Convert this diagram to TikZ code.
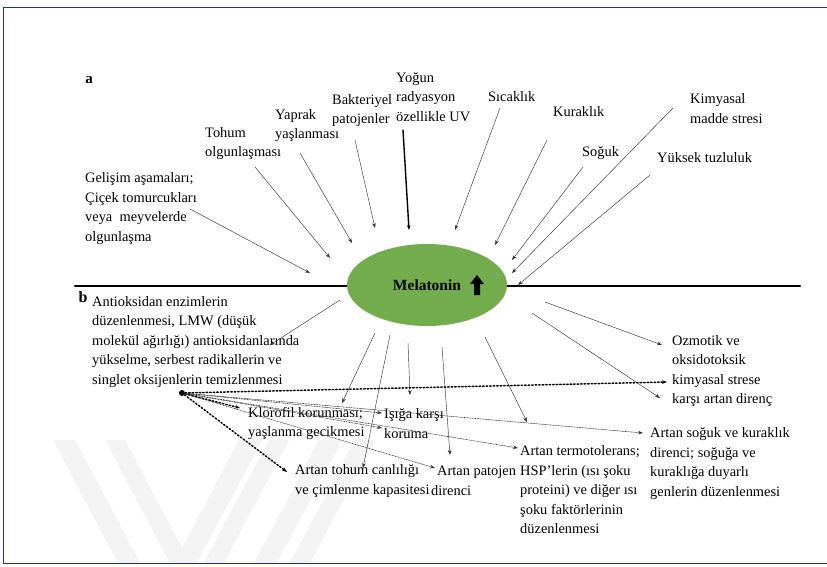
\documentclass[tikz,border=0pt]{standalone}
\usepackage{fontspec}
\setmainfont{Liberation Serif}
\usetikzlibrary{arrows.meta,shapes.geometric}
\definecolor{frameBlue}{HTML}{2323C8}
\definecolor{melGreen}{HTML}{72AC4D}
\definecolor{wmGray}{HTML}{F3F3F3}

\begin{document}
\begin{tikzpicture}[
  x=1pt, y=-1pt,
  >={Stealth[length=5pt,width=3.6pt]},
  line cap=round,
  every node/.style={font=\fontsize{14.4}{19.5}\selectfont, inner sep=0pt},
  txt/.style={anchor=west, align=left},
  arr/.style={->, black!80, line width=0.45pt},
  dotarr/.style={->, black!80, line width=0.6pt, densely dotted},
  bigdot/.style={->, black, line width=1.5pt, dotted}
]
  \useasboundingbox (0,0) rectangle (827,567);

  % Watermark stripes
  \fill[wmGray] (53,440) -- (75,440) -- (140,563) -- (118,563) -- cycle;
  \fill[wmGray] (105,440) -- (125,440) -- (190,563) -- (170,563) -- cycle;
  \fill[wmGray] (239,440) -- (262,440) -- (197,563) -- (174,563) -- cycle;
  \fill[wmGray] (269,440) -- (289,440) -- (224,563) -- (204,563) -- cycle;
  \fill[wmGray] (319,440) -- (342,440) -- (277,563) -- (254,563) -- cycle;
  \fill[wmGray] (355,440) -- (375,440) -- (310,563) -- (290,563) -- cycle;

  % Frame
  \draw[frameBlue, line width=1pt] (828,8) -- (3,8) -- (3,563) -- (828,563);

  % Dividing line and melatonin
  \draw[black, line width=2.5pt] (75,286) -- (800,286);
  \node[ellipse, fill=melGreen, minimum width=160pt, minimum height=82pt,
        font=\bfseries\fontsize{15.5}{18}\selectfont] (melatonin) at (427,285) {Melatonin};
  \fill[black] (477,275) -- (484,284) -- (480,284) -- (480,295)
    -- (474,295) -- (474,284) -- (470,284) -- cycle;

  % Part a: stress factors
  \node[font=\bfseries\fontsize{15}{18}\selectfont] (secA) at (89,80) {a};
  \node[txt] (gelisim) at (85,208.5) {Gelişim aşamaları;\\Çiçek tomurcukları\\veya\ \ meyvelerde\\olgunlaşma};
  \node[txt] (tohum) at (205,143.5) {Tohum\\olgunlaşması};
  \node[txt] (yaprak) at (275,125.5) {Yaprak\\yaşlanması};
  \node[txt] (bakteri) at (332,110.5) {Bakteriyel\\patojenler};
  \node[txt] (uv) at (396,97) {Yoğun\\radyasyon\\özellikle UV};
  \node[txt] (sicak) at (488,97) {Sıcaklık};
  \node[txt] (kurak) at (553,112) {Kuraklık};
  \node[txt] (soguk) at (582,153) {Soğuk};
  \node[txt] (kimya) at (690,108.5) {Kimyasal\\madde stresi};
  \node[txt] (tuz) at (657,158) {Yüksek tuzluluk};

  \coordinate (gelisimTail) at (190,209);  \coordinate (gelisimTip) at (310,273);
  \coordinate (tohumTail) at (255,167);    \coordinate (tohumTip) at (330,258);
  \coordinate (yaprakTail) at (300,153);   \coordinate (yaprakTip) at (352,243);
  \coordinate (bakteriTail) at (355,140);  \coordinate (bakteriTip) at (375,228);
  \coordinate (uvTail) at (403,130);       \coordinate (uvTip) at (409,230);
  \coordinate (sicakTail) at (500,108);    \coordinate (sicakTip) at (455,230);
  \coordinate (kurakTail) at (547,140);    \coordinate (kurakTip) at (495,245);
  \coordinate (sogukTail) at (583,167);    \coordinate (sogukTip) at (512,260);
  \coordinate (kimyaTail) at (673,108);    \coordinate (kimyaTip) at (512,273);
  \coordinate (tuzTail) at (650,175);      \coordinate (tuzTip) at (518,285);

  \draw[arr] (gelisimTail) -- (gelisimTip);
  \draw[arr] (tohumTail) -- (tohumTip);
  \draw[arr] (yaprakTail) -- (yaprakTip);
  \draw[arr] (bakteriTail) -- (bakteriTip);
  \draw[->, black, line width=1.4pt] (uvTail) -- (uvTip);
  \draw[arr] (sicakTail) -- (sicakTip);
  \draw[arr] (kurakTail) -- (kurakTip);
  \draw[arr] (sogukTail) -- (sogukTip);
  \draw[arr] (kimyaTail) -- (kimyaTip);
  \draw[arr] (tuzTail) -- (tuzTip);

  % Part b: responses
  \node[font=\bfseries\fontsize{16}{18}\selectfont] (secB) at (83,297) {b};
  \node[txt] (antiok) at (92,342) {Antioksidan enzimlerin\\düzenlenmesi, LMW (düşük\\molekül ağırlığı) antioksidanlarında\\yükselme, serbest radikallerin ve\\singlet oksijenlerin temizlenmesi};
  \node[txt] (klorofil) at (248,423.5) {Klorofil korunması;\\yaşlanma gecikmesi};
  \node[txt] (isiga) at (384,423.5) {Işığa karşı\\koruma};
  \node[txt] (tohumcan) at (295,481) {Artan tohum canlılığı\\ve çimlenme kapasitesi};
  \node[txt] (patojen) at (431,481) {\hspace*{6pt}Artan patojen\\direnci};
  \node[txt] (termo) at (520,490) {Artan termotolerans;\\HSP'lerin (ısı şoku\\proteini) ve diğer ısı\\şoku faktörlerinin\\düzenlenmesi};
  \node[txt] (sogukdir) at (650,463.5) {Artan soğuk ve kuraklık\\direnci; soğuğa ve\\kuraklığa duyarlı\\genlerin düzenlenmesi};
  \node[txt] (ozmotik) at (672,371) {Ozmotik ve\\oksidotoksik\\kimyasal strese\\karşı artan direnç};

  % Arrows out of melatonin
  \coordinate (antiokTail) at (340,300);   \coordinate (antiokTip) at (270,345);
  \coordinate (klorTail) at (375,333);     \coordinate (klorTip) at (342,403);
  \coordinate (canTail) at (390,335);      \coordinate (canTip) at (363,468);
  \coordinate (isigaTail) at (408,343);    \coordinate (isigaTip) at (410,395);
  \coordinate (patTail) at (442,347);      \coordinate (patTip) at (450,455);
  \coordinate (termoTail) at (485,337);    \coordinate (termoTip) at (527,422);
  \coordinate (ozmTail) at (545,302);      \coordinate (ozmTip) at (662,345);
  \coordinate (direncTail) at (532,313);   \coordinate (direncTip) at (660,398);

  \draw[arr] (antiokTail) -- (antiokTip);
  \draw[arr] (klorTail) -- (klorTip);
  \draw[arr] (canTail) -- (canTip);
  \draw[arr] (isigaTail) -- (isigaTip);
  \draw[arr] (patTail) -- (patTip);
  \draw[arr] (termoTail) -- (termoTip);
  \draw[arr] (ozmTail) -- (ozmTip);
  \draw[arr] (direncTail) -- (direncTip);

  % Dotted fan from the hub
  \node[circle, fill=black, minimum size=6pt] (hub) at (182,393) {};
  \coordinate (hKlor) at (240,408);
  \coordinate (hTohum) at (287,472);
  \coordinate (hKimya) at (667,382);
  \coordinate (hIsiga) at (382,413);
  \coordinate (hKoruma) at (382,428);
  \coordinate (hPat) at (435,468);
  \coordinate (hTermo) at (518,448);
  \coordinate (hSoguk) at (643,433);

  \draw[bigdot] (hub) -- (hKlor);
  \draw[bigdot] (hub) -- (hTohum);
  \draw[bigdot] (hub) -- (hKimya);
  \draw[dotarr] (hub) -- (hIsiga);
  \draw[dotarr] (hub) -- (hKoruma);
  \draw[dotarr] (hub) -- (hPat);
  \draw[dotarr] (hub) -- (hTermo);
  \draw[dotarr] (hub) -- (hSoguk);
\end{tikzpicture}
\end{document}
